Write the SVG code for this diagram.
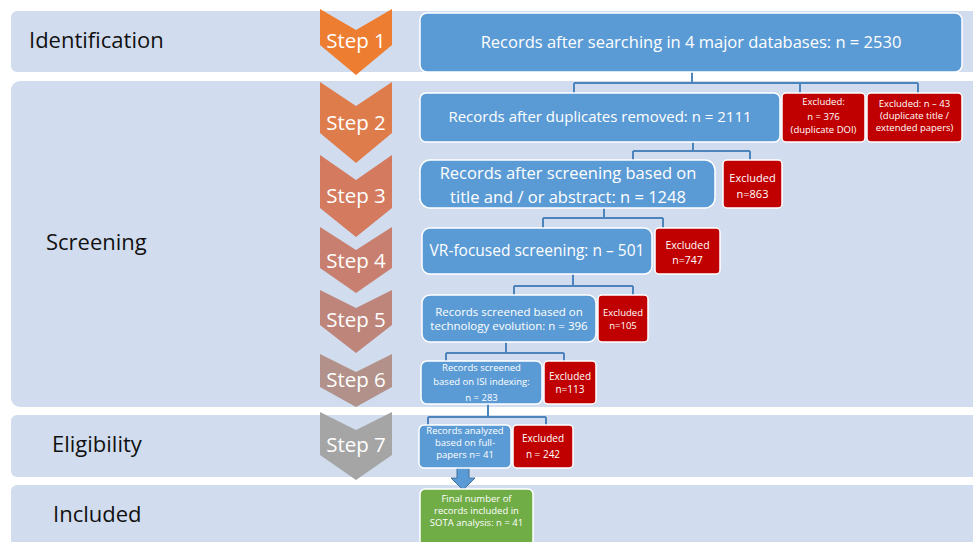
<svg xmlns="http://www.w3.org/2000/svg" width="973" height="542" viewBox="0 0 973 542">
<defs>
<style>
.band{fill:#D1DDEF}
.lbl{font-family:"Open Sans","Liberation Sans",sans-serif;font-size:22px;fill:#111}
.step{font-family:"Open Sans","Liberation Sans",sans-serif;font-size:20.5px;fill:#fff;text-anchor:middle}
.box{fill:#5B9BD5;stroke:#fff;stroke-width:1.5}
.exc{fill:#C00000;stroke:#fff;stroke-width:1.5}
.fin{fill:#70AD47;stroke:#fff;stroke-width:1.5}
.t{font-family:"Open Sans","Liberation Sans",sans-serif;fill:#fff;text-anchor:middle}
.con{fill:none;stroke:#4E84BC;stroke-width:2}
</style>
<clipPath id="c3"><rect x="420" y="160" width="295" height="43"/></clipPath>
</defs>
<rect width="973" height="542" fill="#fff"/>
<g id="bands">
<rect class="band" x="11" y="11" width="990" height="61" rx="6"/>
<rect class="band" x="11" y="81" width="990" height="326" rx="9"/>
<rect class="band" x="11" y="415" width="990" height="62" rx="6"/>
<rect class="band" x="11" y="485" width="990" height="80" rx="6"/>
<text class="lbl" x="29" y="48">Identification</text>
<text class="lbl" x="46" y="250">Screening</text>
<text class="lbl" x="52" y="452">Eligibility</text>
<text class="lbl" x="53" y="522">Included</text>
</g>
<g id="steps">
<g id="step1"><polygon points="320,9 356,30 392,9 392,45 356,75 320,45" fill="#ED7D31"/><text class="step" x="356" y="48">Step 1</text></g>
<g id="step2"><polygon points="320,82 356,106 392,82 392,133 356,163 320,133" fill="#DF7C4B"/><text class="step" x="356" y="130">Step 2</text></g>
<g id="step3"><polygon points="320,155 356,180 392,155 392,208 356,237 320,208" fill="#D47A5E"/><text class="step" x="356" y="203">Step 3</text></g>
<g id="step4"><polygon points="320,227 356,250 392,227 392,268 356,293 320,268" fill="#C97F6F"/><text class="step" x="356" y="268">Step 4</text></g>
<g id="step5"><polygon points="320,290 356,308 392,290 392,325 356,353 320,325" fill="#BE857B"/><text class="step" x="356" y="327">Step 5</text></g>
<g id="step6"><polygon points="320,354 356,372 392,354 392,387 356,407 320,387" fill="#B19189"/><text class="step" x="356" y="387">Step 6</text></g>
<g id="step7"><polygon points="320,412 356,430 392,412 392,455 356,480 320,455" fill="#A5A5A5"/><text class="step" x="356" y="452">Step 7</text></g>
</g>
<g id="connectors">
<path class="con" d="M692,72 V83 M574,83 H918 M574,83 V93 M800,83 V93 M918,83 V93"/>
<path class="con" d="M693,142 V151 M633,151 H750 M633,151 V160 M750,151 V160"/>
<path class="con" d="M604,208 V218 M543,218 H663 M543,218 V228 M663,218 V228"/>
<path class="con" d="M573,274 V286 M514,286 H633 M514,286 V295 M633,286 V295"/>
<path class="con" d="M506,342 V353 M446,353 H564 M446,353 V361 M564,353 V361"/>
<path class="con" d="M488,404 V417 M428,417 H546 M428,417 V425 M546,417 V425"/>
<polygon points="457,468 469,468 469,478 475,478 463,490 451,478 457,478" fill="#5B9BD5" stroke="#41719C" stroke-width="1"/>
</g>
<g id="n1"><rect class="box" x="420" y="13" width="542" height="59" rx="7"/><text class="t" x="691" y="48" font-size="16.5">Records after searching in 4 major databases: n = 2530</text></g>
<g id="n2"><rect class="box" x="420" y="93" width="360" height="49" rx="6"/><text class="t" x="600" y="122" font-size="15">Records after duplicates removed: n = 2111</text></g>
<g id="x1"><rect class="exc" x="782" y="93" width="83" height="49" rx="4"/><text class="t" font-size="9.5"><tspan x="823.5" y="104.5">Excluded:</tspan><tspan x="823.5" y="120">n = 376</tspan><tspan x="823.5" y="132.5">(duplicate DOI)</tspan></text></g>
<g id="x2"><rect class="exc" x="867" y="93" width="95" height="49" rx="4"/><text class="t" font-size="9.5"><tspan x="914.5" y="107">Excluded: n – 43</tspan><tspan x="914.5" y="119">(duplicate title /</tspan><tspan x="914.5" y="131">extended papers)</tspan></text></g>
<g id="n3"><rect class="box" x="420" y="160" width="295" height="48" rx="10"/><text class="t" font-size="16.5" clip-path="url(#c3)"><tspan x="568" y="179">Records after screening based on</tspan><tspan x="568" y="203">title and / or abstract: n = 1248</tspan></text></g>
<g id="x3"><rect class="exc" x="723" y="160" width="59" height="48" rx="4"/><text class="t" font-size="11"><tspan x="752.5" y="182">Excluded</tspan><tspan x="752.5" y="198">n=863</tspan></text></g>
<g id="n4"><rect class="box" x="422" y="228" width="230" height="46" rx="8"/><text class="t" x="537" y="255.5" font-size="15.5">VR-focused screening: n – 501</text></g>
<g id="x4"><rect class="exc" x="655" y="228" width="65" height="46" rx="4"/><text class="t" font-size="10.5"><tspan x="687.5" y="249">Excluded</tspan><tspan x="687.5" y="263.5">n=747</tspan></text></g>
<g id="n5"><rect class="box" x="422" y="295" width="174" height="47" rx="8"/><text class="t" font-size="11.5"><tspan x="509" y="316">Records screened based on</tspan><tspan x="509" y="330">technology evolution: n = 396</tspan></text></g>
<g id="x5"><rect class="exc" x="598" y="295" width="50" height="47" rx="4"/><text class="t" font-size="9.5"><tspan x="623" y="316">Excluded</tspan><tspan x="623" y="328.5">n=105</tspan></text></g>
<g id="n6"><rect class="box" x="421" y="361" width="121" height="43" rx="6"/><text class="t" font-size="9.5"><tspan x="481.5" y="371">Records screened</tspan><tspan x="481.5" y="384.5">based on ISI indexing:</tspan><tspan x="481.5" y="400.5">n = 283</tspan></text></g>
<g id="x6"><rect class="exc" x="544" y="361" width="52" height="43" rx="4"/><text class="t" font-size="10"><tspan x="570" y="380">Excluded</tspan><tspan x="570" y="393">n=113</tspan></text></g>
<g id="n7"><rect class="box" x="419" y="425" width="92" height="43" rx="5"/><text class="t" font-size="9.5"><tspan x="465" y="434">Records analyzed</tspan><tspan x="465" y="446">based on full-</tspan><tspan x="465" y="458">papers n= 41</tspan></text></g>
<g id="x7"><rect class="exc" x="513" y="425" width="60" height="43" rx="4"/><text class="t" font-size="10"><tspan x="543" y="442">Excluded</tspan><tspan x="543" y="458">n = 242</tspan></text></g>
<g id="n8"><rect class="fin" x="420" y="489" width="113" height="60" rx="5"/><text class="t" font-size="9.5"><tspan x="476.5" y="501.5">Final number of</tspan><tspan x="476.5" y="513.5">records included in</tspan><tspan x="476.5" y="525.5">SOTA analysis: n = 41</tspan></text></g>
</svg>
